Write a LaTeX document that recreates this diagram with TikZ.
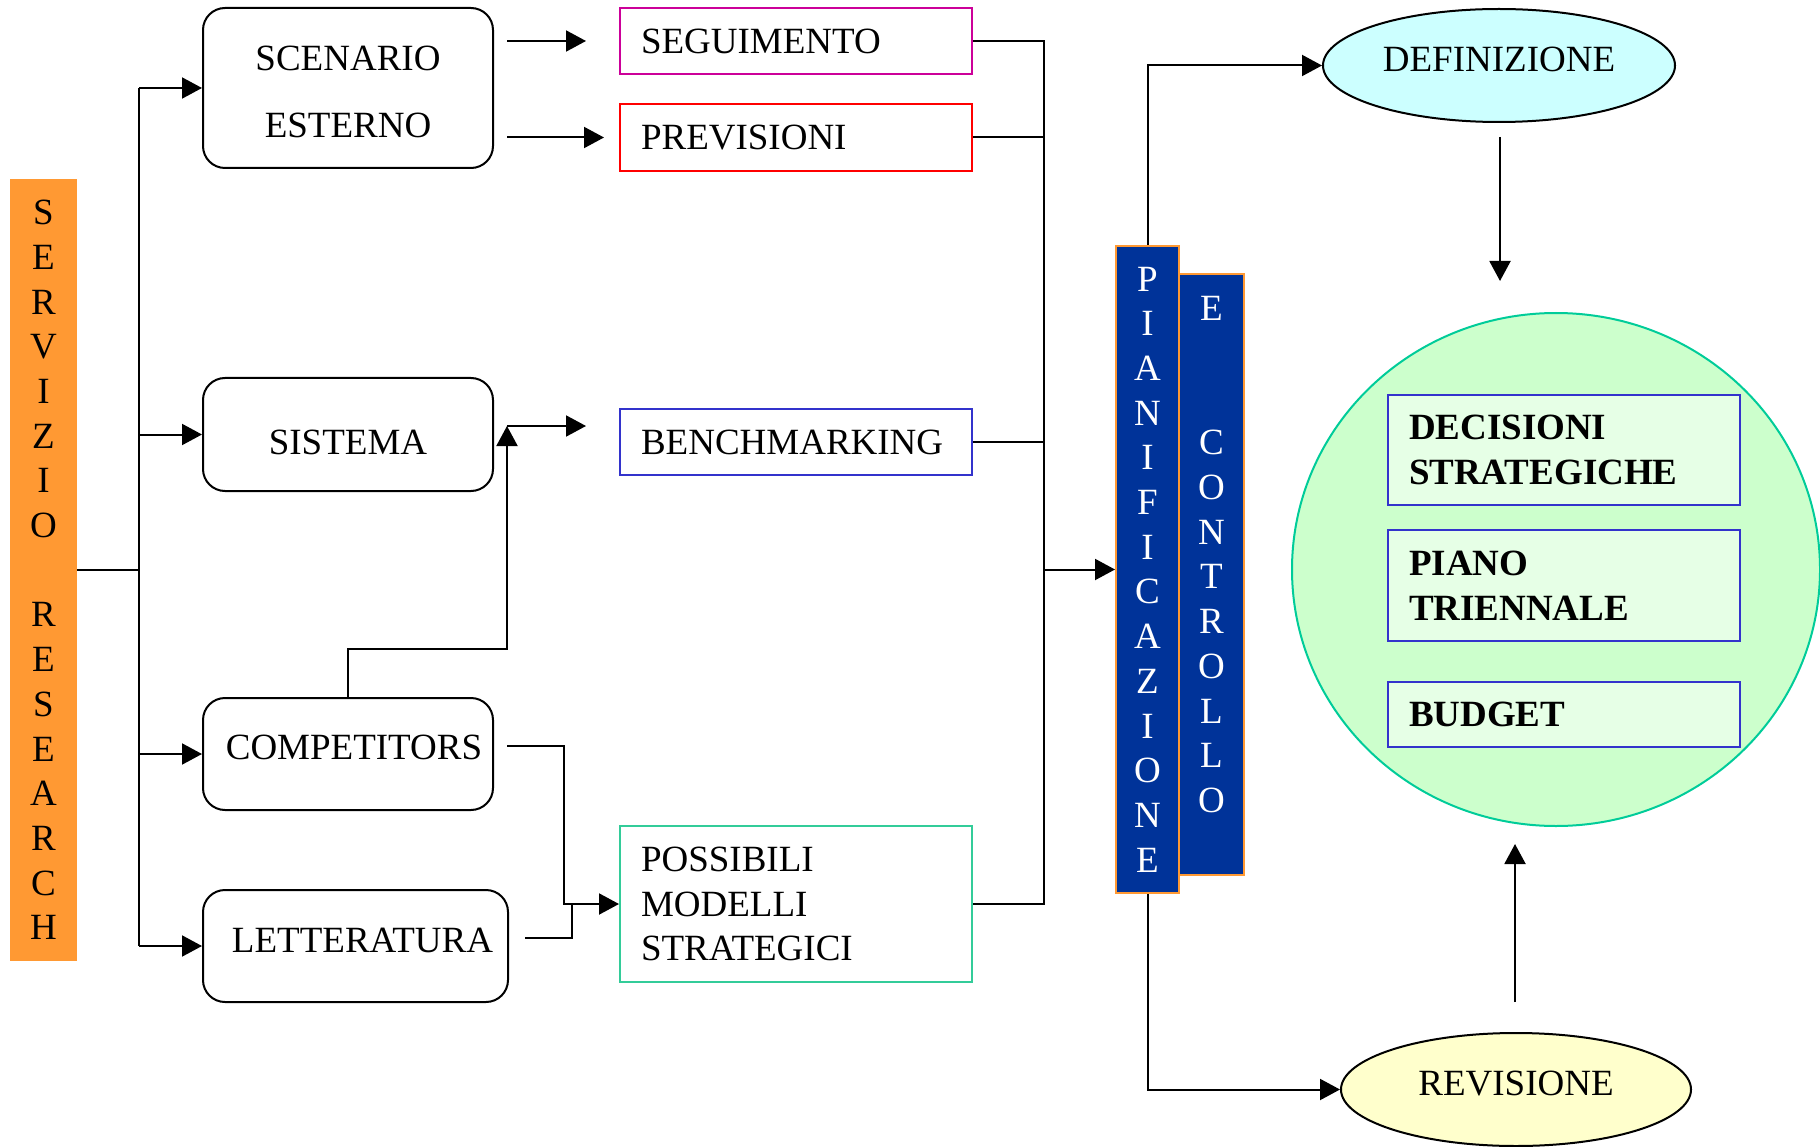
\documentclass[tikz,border=0pt]{standalone}
\usepackage{fontspec}
\setmainfont{Liberation Serif}
\usetikzlibrary{arrows.meta,shapes.geometric,calc}
\definecolor{orng}{HTML}{FF9933}
\definecolor{dblue}{HTML}{003399}
\definecolor{magen}{HTML}{CC0099}
\definecolor{bblue}{HTML}{3333CC}
\definecolor{teala}{HTML}{33CC99}
\definecolor{tealb}{HTML}{00CC99}
\definecolor{greenf}{HTML}{CCFFCC}
\definecolor{ifill}{HTML}{E6FFE6}
\definecolor{cyanf}{HTML}{CCFFFF}
\definecolor{yellowf}{HTML}{FFFFCC}
\begin{document}
\begin{tikzpicture}[x=1pt,y=-1pt,
  every node/.style={font=\fontsize{37}{44.7}\selectfont, inner sep=0pt},
  con/.style={line width=2pt},
  arr/.style={line width=2pt,-{Triangle[length=20pt,width=21pt]}},
  rbox/.style={draw, line width=2pt, rounded corners=22pt, align=center},
  sbox/.style={draw, line width=2pt, minimum width=352pt, text width=310pt, inner xsep=21pt, align=left},
  ibox/.style={sbox, draw=bblue, fill=ifill, font=\fontsize{37}{44.7}\selectfont\bfseries},
  vbar/.style={draw=orng, line width=2pt, fill=dblue, text=white, align=center},
  oval/.style={ellipse, draw, line width=2pt}]
\useasboundingbox (0,0) rectangle (1820,1147);

% left column
\node[fill=orng, minimum width=67pt, minimum height=782pt, align=center] (sr) at (43.5,570)
  {S\\E\\R\\V\\I\\Z\\I\\O\\[44.7pt]R\\E\\S\\E\\A\\R\\C\\H};

\node[rbox, minimum width=290pt, minimum height=160pt, text height=99pt] (scen) at (348,88) {SCENARIO\\[22.3pt]ESTERNO};
\node[rbox, minimum width=290pt, minimum height=113pt, text height=41pt] (sist) at (348,434.5) {SISTEMA};
\node[rbox, minimum width=290pt, minimum height=112pt, text depth=14pt] (comp) at (348,754) {\hspace*{12pt}COMPETITORS};
\node[rbox, minimum width=305pt, minimum height=112pt, text depth=12pt] (lett) at (355.5,946) {\hspace*{14pt}LETTERATURA};

% middle column
\node[sbox, draw=magen, minimum height=66pt] (seg) at (796,41) {SEGUIMENTO};
\node[sbox, draw=red, minimum height=67pt] (prev) at (796,137.5) {PREVISIONI};
\node[sbox, draw=bblue, minimum height=66pt] (bench) at (796,442) {BENCHMARKING};
\node[sbox, draw=teala, minimum height=156pt] (poss) at (796,904) {POSSIBILI\\MODELLI\\STRATEGICI};

% vertical bars
\node[vbar, minimum width=65pt, minimum height=601pt, text depth=40pt] (ctrl) at (1211.5,574.5)
  {E\\[89.4pt]C\\O\\N\\T\\R\\O\\L\\L\\O};
\node[vbar, minimum width=63pt, minimum height=647pt] (pian) at (1147.5,569.5)
  {P\\I\\A\\N\\I\\F\\I\\C\\A\\Z\\I\\O\\N\\E};

% right column
\node[oval, fill=cyanf, minimum width=352pt, minimum height=113pt, text depth=12pt] (def) at (1499,65.5) {DEFINIZIONE};
\node[ellipse, draw=tealb, line width=2pt, fill=greenf, minimum width=528pt, minimum height=513pt] (circ) at (1556,569.5) {};
\node[ibox, minimum height=110pt] (dec) at (1564,450) {DECISIONI\\STRATEGICHE};
\node[ibox, minimum height=111pt] (piano) at (1564,585.5) {PIANO\\TRIENNALE};
\node[ibox, minimum height=65pt] (bud) at (1564,714.5) {BUDGET};
\node[oval, fill=yellowf, minimum width=350pt, minimum height=113pt, text depth=12pt] (rev) at (1516,1089.5) {REVISIONE};

% trunk
\coordinate (tr) at (139,570);
\coordinate (trt) at (tr |- scen.west);
\coordinate (trb) at (tr |- lett.west);
\draw[con] (sr.east) -- (tr);
\draw[con] (trt) -- (trb);
\draw[arr] (trt) -- (scen.west);
\draw[arr] (tr |- sist.west) -- (sist.west);
\draw[arr] (tr |- comp.west) -- (comp.west);
\draw[arr] (trb) -- (lett.west);

% scenario arrows
\coordinate (a1) at (507,41);  \coordinate (a2) at (586,41);
\coordinate (b1) at (507,137.5); \coordinate (b2) at (604,137.5);
\draw[arr] (a1) -- (a2);
\draw[arr] (b1) -- (b2);

% competitors -> benchmarking
\coordinate (sc) at (507,426);
\coordinate (sce) at (586,426);
\draw[arr] (comp.north) -- ++(0,-48) -| (sc);
\draw[arr] (sc) -- (sce);

% competitors / letteratura -> possibili
\coordinate (ce) at (507,746);
\coordinate (le) at (525,938);
\draw[arr] (ce) -| ($(poss.west)+(-55,0)$) -- (poss.west);
\draw[con] (le) -| ($(poss.west)+(-47,0)$);

% bus to pianificazione
\coordinate (bt) at (1044,41);
\coordinate (bb) at (1044,904);
\draw[con] (seg.east) -- (bt) -- (bb) -- (poss.east);
\draw[con] (prev.east) -- (prev.east -| bt);
\draw[con] (bench.east) -- (bench.east -| bt);
\draw[arr] (pian.west -| bt) -- (pian.west);

% pianificazione -> definizione / revisione
\draw[arr] (pian.north) |- (def.west);
\draw[arr] (pian.south) |- (rev.west);

% vertical arrows
\coordinate (d1) at (1500,137); \coordinate (d2) at (1500,281);
\draw[arr] (d1) -- (d2);
\coordinate (r1) at (1515,1002); \coordinate (r2) at (1515,844);
\draw[arr] (r1) -- (r2);
\end{tikzpicture}
\end{document}
